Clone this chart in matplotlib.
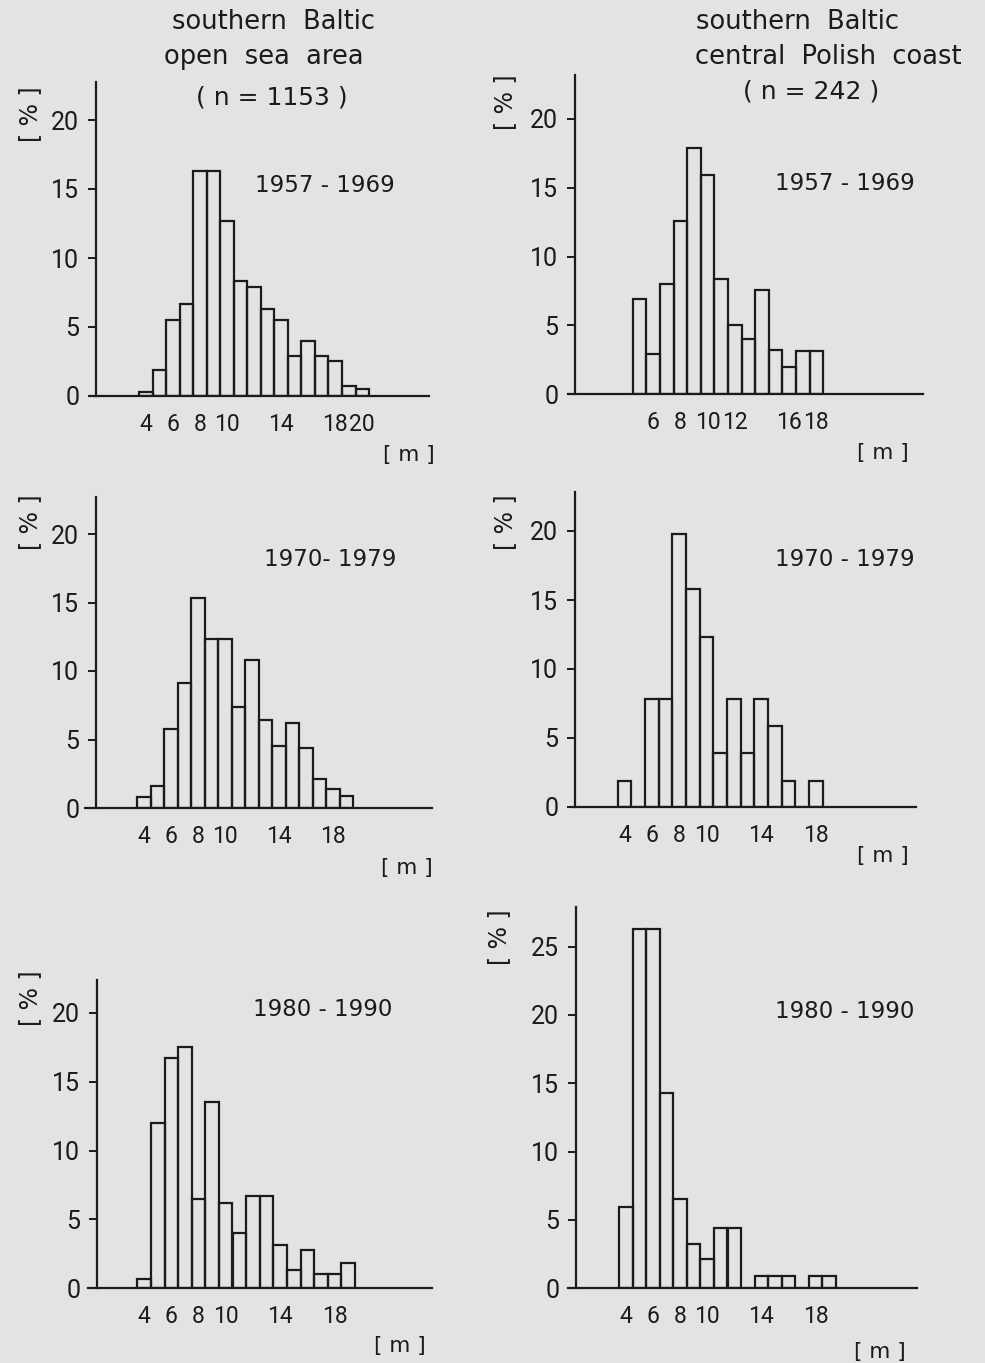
import matplotlib
matplotlib.use('Agg')
import matplotlib.pyplot as plt

plt.rcParams['font.family'] = ['DejaVu Sans']

# depth classes [m] and percentages
open_57_x = list(range(4, 21))
open_57_y = [0.3, 1.9, 5.5, 6.7, 16.3, 16.3, 12.7, 8.3, 7.9, 6.3, 5.5, 2.9, 4.0, 2.9, 2.5, 0.7, 0.5]

coast_57_x = list(range(5, 19))
coast_57_y = [6.9, 2.9, 8.0, 12.6, 17.9, 15.9, 8.4, 5.0, 4.0, 7.6, 3.2, 2.0, 3.1, 3.1]

open_70_x = list(range(4, 20))
open_70_y = [0.8, 1.6, 5.8, 9.1, 15.3, 12.3, 12.3, 7.4, 10.8, 6.4, 4.5, 6.2, 4.4, 2.1, 1.4, 0.9]

coast_70_x = list(range(4, 19))
coast_70_y = [1.9, 0, 7.8, 7.8, 19.8, 15.8, 12.3, 3.9, 7.8, 3.9, 7.8, 5.9, 1.9, 0, 1.9]

open_80_x = list(range(4, 20))
open_80_y = [0.65, 12.0, 16.7, 17.5, 6.5, 13.5, 6.2, 4.0, 6.7, 6.7, 3.1, 1.3, 2.8, 1.0, 1.0, 1.8]

coast_80_x = list(range(4, 20))
coast_80_y = [5.9, 26.3, 26.3, 14.3, 6.5, 3.2, 2.1, 4.4, 4.4, 0, 0.9, 0.9, 0.9, 0, 0.9, 0.9]

xticks_1 = [4, 6, 8, 10, 14, 18, 20]
xticks_2 = [6, 8, 10, 12, 16, 18]
xticks_3 = [4, 6, 8, 10, 14, 18]
yticks_a = [0, 5, 10, 15, 20]
yticks_b = [0, 5, 10, 15, 20, 25]

W, H = 985, 1363
bg = '#e3e3e3'
ink = '#1c1a1a'
tick_font = ['Liberation Sans Narrow', 'Roboto', 'DejaVu Sans']

fig = plt.figure(figsize=(W / 100, H / 100), dpi=100, facecolor=bg)

def px(x, y):
    return x / W, 1 - y / H

# layout in pixels: x-line left, right, y-axis x, zero line y, top y, px/m, first bar centre, px/%
panels = [
    (open_57_x, open_57_y, xticks_1, yticks_a, '1957 - 1969', (90, 429, 96, 396, 82, 13.53, 145.8, 13.8), (325, 185), (30, 114), (409, 455)),
    (coast_57_x, coast_57_y, xticks_2, yticks_a, '1957 - 1969', (568, 923, 575, 394, 75, 13.6, 639.5, 13.75), (845, 184), (505, 102), (883, 453)),
    (open_70_x, open_70_y, xticks_3, yticks_a, '1970- 1979', (85, 432, 96, 808, 497, 13.5, 143.75, 13.7), (330, 560), (30, 522), (407, 868)),
    (coast_70_x, coast_70_y, xticks_3, yticks_a, '1970 - 1979', (571, 916, 575, 807, 492, 13.67, 624.5, 13.8), (845, 560), (505, 522), (883, 856)),
    (open_80_x, open_80_y, xticks_3, yticks_a, '1980 - 1990', (88, 432, 97, 1288, 980, 13.6, 144.1, 13.75), (323, 1009), (30, 998), (400, 1346)),
    (coast_80_x, coast_80_y, xticks_3, yticks_b, '1980 - 1990', (568, 917, 576, 1288, 907, 13.56, 625.8, 13.65), (845, 1011), (499, 937), (880, 1352)),
]

for xs, ys, xt, yt, period, lay, ppos, ypos, mpos in panels:
    xl, xr, ya, y0, top, sx, c0, sy = lay
    v0 = xs[0]
    ax = fig.add_axes([xl / W, 1 - y0 / H, (xr - xl) / W, (y0 - top) / H])
    ax.set_facecolor('none')
    ax.bar(xs, ys, width=1.0, facecolor='none', edgecolor=ink, linewidth=1.6)
    ax.set_xlim(v0 - (c0 - xl) / sx, v0 + (xr - c0) / sx)
    ax.set_ylim(0, (y0 - top) / sy)
    ax.spines['top'].set_visible(False)
    ax.spines['right'].set_visible(False)
    ax.spines['left'].set_position(('data', v0 - (c0 - ya) / sx))
    for s in ['left', 'bottom']:
        ax.spines[s].set_color(ink)
        ax.spines[s].set_linewidth(1.6)
    ax.set_xticks(xt)
    ax.set_yticks(yt)
    ax.tick_params(axis='x', length=0, pad=12, colors=ink)
    ax.tick_params(axis='y', length=6, width=1.4, pad=6, colors=ink)
    for lab in ax.get_xticklabels():
        lab.set_family(tick_font)
        lab.set_fontsize(16.5)
    for lab in ax.get_yticklabels():
        lab.set_family(tick_font)
        lab.set_fontsize(18)
    fig.text(*px(*ppos), period, ha='center', va='center', fontsize=16.5, color=ink)
    fig.text(*px(*ypos), '[ % ]', ha='center', va='center', rotation=90, fontsize=17, color=ink)
    fig.text(*px(*mpos), '[ m ]', ha='center', va='center', fontsize=15.5, color=ink)

# column headings
fig.text(*px(274, 22), 'southern  Baltic', ha='center', va='center', fontsize=18.5, color=ink)
fig.text(*px(264, 57), 'open  sea  area', ha='center', va='center', fontsize=18.5, color=ink)
fig.text(*px(272, 97), '( n = 1153 )', ha='center', va='center', fontsize=18, color=ink)
fig.text(*px(797, 22), 'southern  Baltic', ha='center', va='center', fontsize=18.5, color=ink)
fig.text(*px(828, 57), 'central  Polish  coast', ha='center', va='center', fontsize=18.5, color=ink)
fig.text(*px(811, 92), '( n = 242 )', ha='center', va='center', fontsize=18, color=ink)

plt.savefig('out.png', dpi=100, facecolor=bg)
